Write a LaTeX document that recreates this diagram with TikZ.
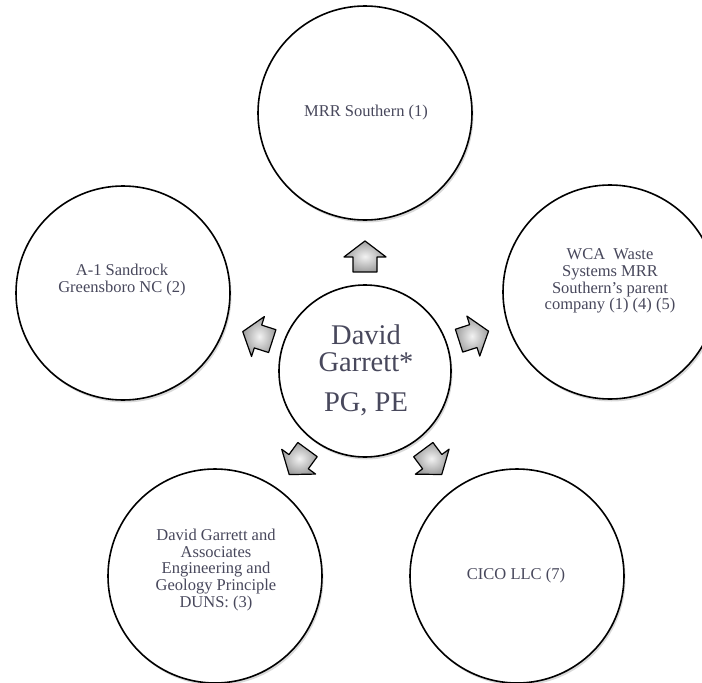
\documentclass[tikz,border=0pt]{standalone}
\usepackage{fontspec}
\setmainfont{Liberation Serif}
\usetikzlibrary{shadows,calc}
\definecolor{txt}{RGB}{72,72,92}
\begin{document}
\begin{tikzpicture}[x=1pt,y=-1pt,
  bubble/.style={circle, draw=black, line width=1.6pt, fill=white, minimum size=214pt, inner sep=0pt,
    drop shadow={shadow xshift=1.5pt, shadow yshift=-2.5pt, opacity=0.3, fill=gray}},
  hub/.style={bubble, minimum size=172pt},
  lbl/.style={text=txt, font=\fontsize{16.5}{16.7}\selectfont, align=center, inner sep=0pt},
  hubtext/.style={text=txt, font=\fontsize{28.5}{27}\selectfont, align=center, inner sep=0pt},
  arrowfill/.style={draw=black, line width=1.2pt, line join=round, shade, inner color=black!5, outer color=black!38},
  barrow/.pic={\draw[arrowfill] (-15,-12) -- (0,-12) -- (0,-21) -- (16,0) -- (0,21) -- (0,12) -- (-15,12) -- cycle;}
]
\useasboundingbox (0,0) rectangle (702,683);
\clip (0,0) rectangle (702,683);

\node[hub] (c) at (365,371) {};
\node[bubble] (t) at (365,113) {};
\node[bubble] (l) at (123,293) {};
\node[bubble] (r) at (610,292) {};
\node[bubble] (bl) at (215,576) {};
\node[bubble] (br) at (517,576) {};

\node[hubtext] (ct) at (366,370) {David\\Garrett*\\[13pt]PG, PE};
\node[lbl] (tt) at (366,113) {MRR Southern (1)};
\node[lbl] (lt) at (122,280) {A-1 Sandrock\\Greensboro NC (2)};
\node[lbl] (rt) at (610,281) {WCA\ \ Waste\\Systems MRR\\Southern’s parent\\company (1) (4) (5)};
\node[lbl] (blt) at (216,570) {David Garrett and\\Associates\\Engineering and\\Geology Principle\\DUNS: (3)};
\node[lbl] (brt) at (516,576) {CICO LLC (7)};

\path (c) -- (t) pic[pos=0.43, sloped, allow upside down] (a1) {barrow};
\path (c) -- (l) pic[pos=0.43, sloped, allow upside down] (a2) {barrow};
\path (c) -- (r) pic[pos=0.43, sloped, allow upside down] (a3) {barrow};
\path (c) -- (bl) pic[pos=0.43, sloped, allow upside down] (a4) {barrow};
\path (c) -- (br) pic[pos=0.43, sloped, allow upside down] (a5) {barrow};
\end{tikzpicture}
\end{document}
